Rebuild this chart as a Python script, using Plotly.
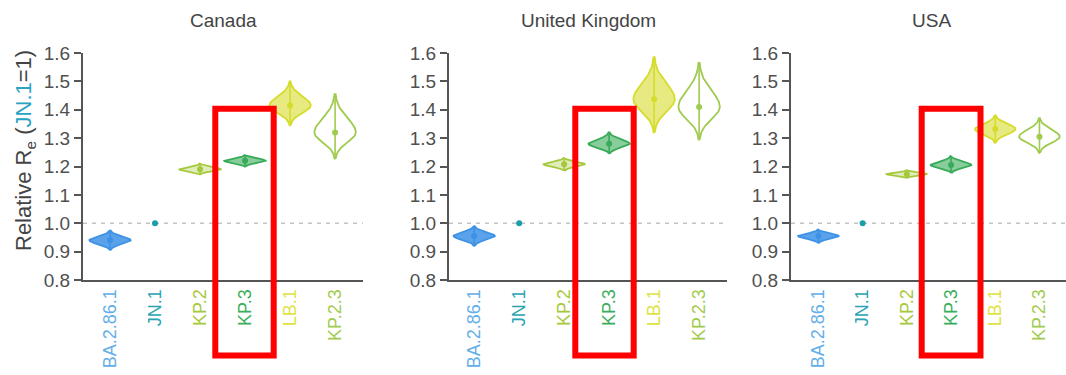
import numpy as np
import plotly.graph_objects as go

# Lineages shown on every panel
lineages = ["BA.2.86.1", "JN.1", "KP.2", "KP.3", "LB.1", "KP.2.3"]
lineage_colors = ["#3d92e6", "#1a9fa8", "#a6c93c", "#38ab58", "#d6dc2c", "#9fcb4e"]
label_colors = ["#62aee8", "#2aa3b3", "#a6c93c", "#3aae5a", "#dfe33f", "#9fcb4e"]
fill_alpha = [0.85, 1.0, 0.35, 0.6, 0.6, 0.0]

countries = ["Canada", "United Kingdom", "USA"]

# Relative effective reproduction number (JN.1 = 1): median and 95% interval
canada_median = [0.940, 1.0, 1.190, 1.220, 1.415, 1.320]
canada_lower = [0.905, 1.0, 1.172, 1.200, 1.345, 1.228]
canada_upper = [0.975, 1.0, 1.210, 1.240, 1.500, 1.455]

uk_median = [0.955, 1.0, 1.208, 1.280, 1.437, 1.410]
uk_lower = [0.920, 1.0, 1.185, 1.245, 1.320, 1.295]
uk_upper = [0.990, 1.0, 1.230, 1.320, 1.585, 1.565]

usa_median = [0.955, 1.0, 1.173, 1.205, 1.332, 1.305]
usa_lower = [0.930, 1.0, 1.160, 1.177, 1.283, 1.248]
usa_upper = [0.978, 1.0, 1.187, 1.237, 1.380, 1.370]

medians = [canada_median, uk_median, usa_median]
lowers = [canada_lower, uk_lower, usa_lower]
uppers = [canada_upper, uk_upper, usa_upper]

y_ticks = [0.8, 0.9, 1.0, 1.1, 1.2, 1.3, 1.4, 1.5, 1.6]

W, H = 1066, 375
# panel extents in pixels (left, right) and x ranges in category units
panel_px = [(83, 363), (449, 727), (791, 1071)]
x_ranges = [[-0.6, 5.62], [-0.56, 5.62], [-0.62, 5.6]]
plot_top, plot_bottom = 53, 280
y_domain = [(H - plot_bottom) / H, (H - plot_top) / H]

FONT = "Liberation Sans, Arial, sans-serif"
AXIS_GREY = "#555555"
HALF_WIDTH = 0.46  # max violin half-width in category units


def rgba(hex_color, a):
    h = hex_color.lstrip("#")
    r, g, b = int(h[0:2], 16), int(h[2:4], 16), int(h[4:6], 16)
    return f"rgba({r},{g},{b},{a})"


def violin_outline(center, med, lo, hi, n=90):
    ys = np.linspace(lo, hi, n)
    s_up = (hi - med) / 2.7
    s_dn = (med - lo) / 2.7
    z = np.where(ys >= med, (ys - med) / s_up, (med - ys) / s_dn)
    w = HALF_WIDTH * np.exp(-0.5 * z ** 2)
    xs = np.concatenate([center + w, (center - w)[::-1], [center + w[0]]])
    yy = np.concatenate([ys, ys[::-1], [ys[0]]])
    return xs, yy


fig = go.Figure()
layout_axes = {}
shapes = []
annotations = []

for p, country in enumerate(countries):
    sfx = "" if p == 0 else str(p + 1)
    xa, ya = "x" + sfx, "y" + sfx
    for i, name in enumerate(lineages):
        med, lo, hi = medians[p][i], lowers[p][i], uppers[p][i]
        col = lineage_colors[i]
        if hi - lo > 1e-9:
            xs, ys = violin_outline(i, med, lo, hi)
            fillcol = rgba(col, fill_alpha[i]) if fill_alpha[i] > 0 else "white"
            fig.add_trace(go.Scatter(
                x=xs, y=ys, mode="lines", fill="toself", fillcolor=fillcol,
                line=dict(color=col, width=1.8), xaxis=xa, yaxis=ya,
                hoverinfo="skip", showlegend=False))
            fig.add_trace(go.Scatter(
                x=[i, i], y=[lo, hi], mode="lines",
                line=dict(color=col, width=1.6), xaxis=xa, yaxis=ya,
                hoverinfo="skip", showlegend=False))
        fig.add_trace(go.Scatter(
            x=[i], y=[med], mode="markers",
            marker=dict(color=col, size=6, line=dict(width=0)),
            xaxis=xa, yaxis=ya, name=name, showlegend=False))

    left, right = panel_px[p]
    layout_axes["xaxis" + sfx] = dict(
        domain=[left / W, min(right / W, 1.0)], range=x_ranges[p], anchor=ya,
        tickmode="array", tickvals=list(range(len(lineages))),
        ticktext=[f"<span style='color:{label_colors[i]}'>{n}</span>"
                  for i, n in enumerate(lineages)],
        tickangle=-90, ticks="", showline=True, linecolor=AXIS_GREY, linewidth=2,
        showgrid=False, zeroline=False, tickfont=dict(size=18, family=FONT),
        automargin=False, fixedrange=True)
    layout_axes["yaxis" + sfx] = dict(
        domain=y_domain, range=[0.8, 1.6], anchor=xa,
        tickmode="array", tickvals=y_ticks, ticktext=[f"{v:.1f}" for v in y_ticks],
        ticks="outside", ticklen=7, tickwidth=1.5, tickcolor=AXIS_GREY,
        showline=True, linecolor=AXIS_GREY, linewidth=2, showgrid=False,
        zeroline=False, tickfont=dict(size=19, family=FONT, color="#505050"),
        automargin=False, fixedrange=True)

    # reference line at JN.1 = 1
    shapes.append(dict(type="line", xref=xa + " domain", yref=ya,
                       x0=0, x1=1, y0=1.0, y1=1.0, layer="below",
                       line=dict(color="#c4c4c4", width=1.6, dash="4px,5px")))

    annotations.append(dict(text=country, xref="paper", yref="paper",
                            x=(left + right) / 2 / W, y=(H - 20) / H,
                            xanchor="center", yanchor="middle", showarrow=False,
                            font=dict(size=19, family=FONT, color="#444444")))

# KP.3 highlight boxes (pixel positions)
highlight_px = [(215.3, 273.7), (575.3, 633.7), (921.7, 980.5)]
for x0, x1 in highlight_px:
    shapes.append(dict(type="rect", xref="paper", yref="paper",
                       x0=x0 / W, x1=x1 / W, y0=(H - 355.5) / H, y1=(H - 108.8) / H,
                       line=dict(color="#ff0000", width=6), fillcolor="rgba(0,0,0,0)"))

annotations.append(dict(
    text="Relative R<sub>e</sub> (<span style='color:#2aa3c3'>JN.1</span>=1)",
    xref="paper", yref="paper", x=25 / W, y=(H - 151) / H, textangle=-90,
    xanchor="center", yanchor="middle", showarrow=False,
    font=dict(size=22, family=FONT, color="#444444")))

fig.update_layout(
    width=W, height=H, margin=dict(l=0, r=0, t=0, b=0),
    paper_bgcolor="white", plot_bgcolor="white", showlegend=False,
    shapes=shapes, annotations=annotations, **layout_axes)

fig.write_html("out.html")
